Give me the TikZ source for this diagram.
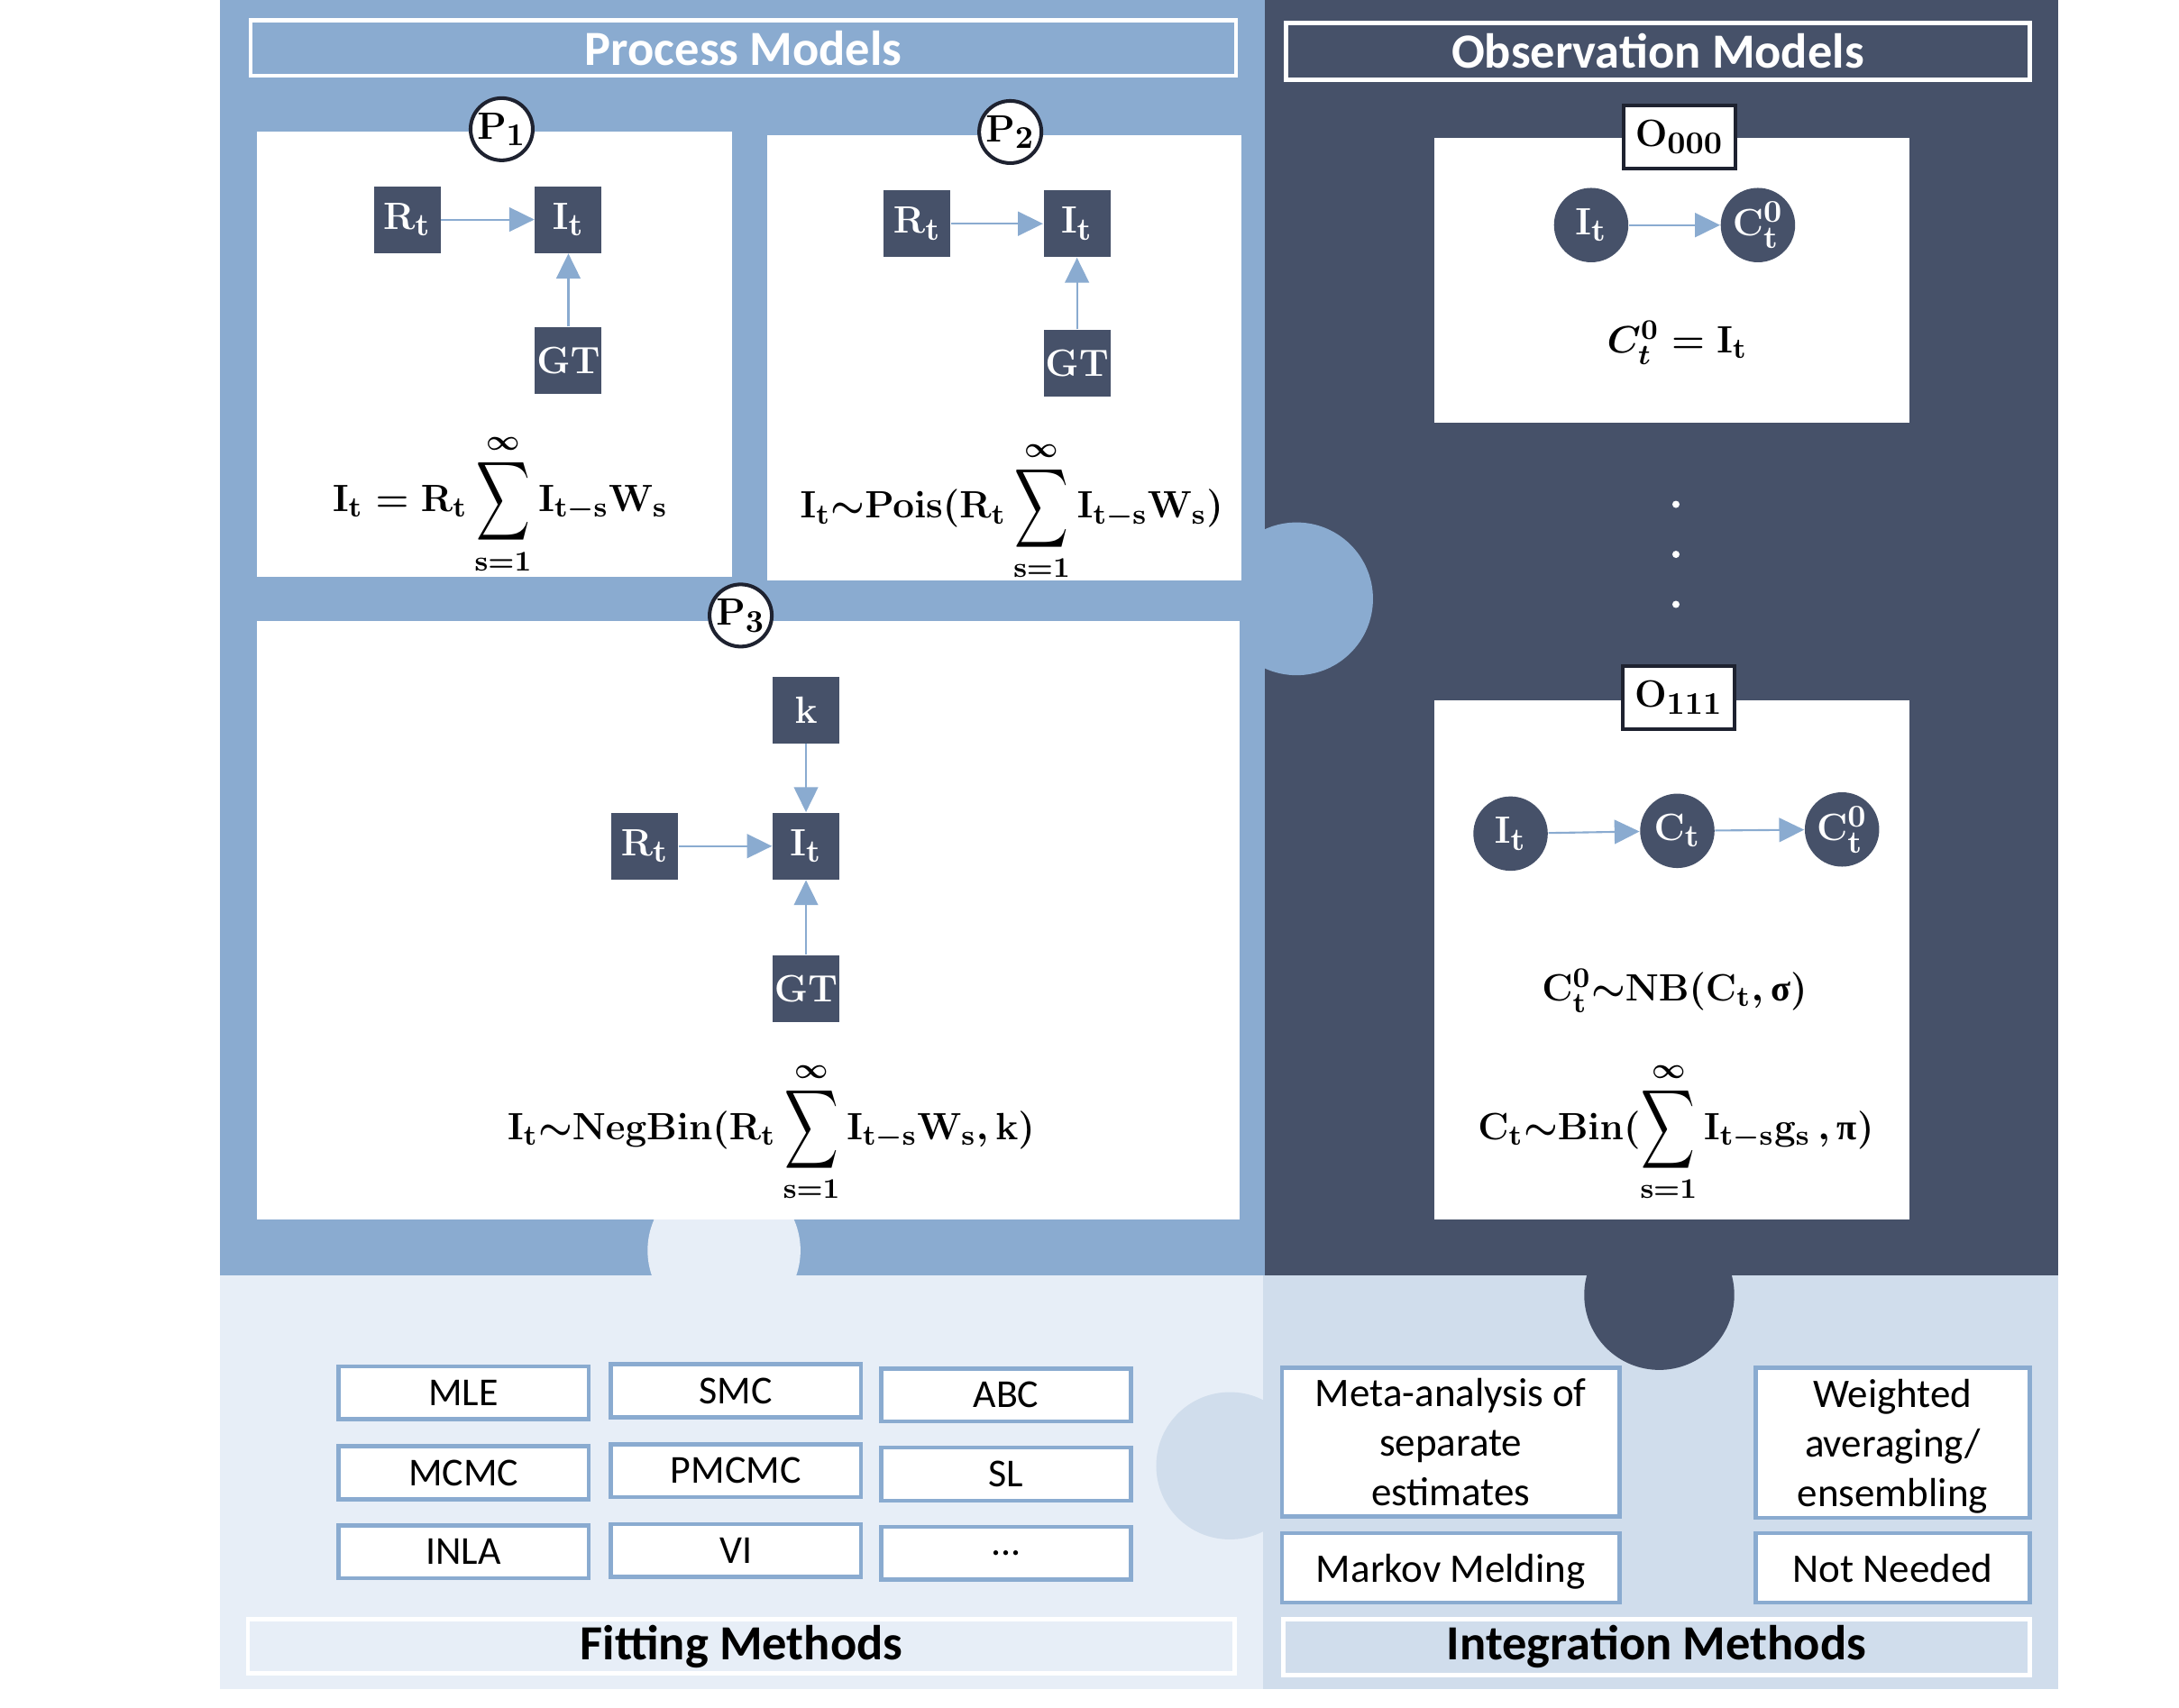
\documentclass[tikz,border=0pt]{standalone}
\usepackage{fontspec}
\usepackage{amsmath}
\usepackage{graphicx}
\usetikzlibrary{arrows.meta}
\newfontfamily\carl{Carlito}
\newfontfamily\grk{Liberation Serif}
\definecolor{lblue}{HTML}{8AABD0}
\definecolor{dnavy}{HTML}{465169}
\definecolor{fitbg}{HTML}{E7EEF7}
\definecolor{intbg}{HTML}{D0DDEC}
\definecolor{labline}{HTML}{1E2230}
\DeclareMathSizes{11.5}{11.5}{8.9}{6.9}
\DeclareMathSizes{13}{13}{10}{7.8}
\newcommand{\nodefont}{\fontsize{13}{15}\selectfont\boldmath}
\newcommand{\eqfont}{\fontsize{11.5}{14}\selectfont\boldmath}
\newcommand{\bsum}{\mathop{\vcenter{\hbox{\scalebox{0.98}[1.45]{$\displaystyle\sum$}}}}\limits}
\newcommand{\gr}[1]{\mbox{\grk\bfseries #1}}
\begin{document}
\begin{tikzpicture}[x=0.15415mm,y=-0.15415mm,
  sq/.style={fill=dnavy, text=white, minimum width=7.4mm, minimum height=7.4mm, inner sep=0pt, font=\nodefont},
  oc/.style={circle, fill=dnavy, text=white, minimum size=8.25mm, inner sep=0pt, font=\nodefont},
  arr/.style={draw=lblue, line width=0.6pt, -{Triangle[length=7.9pt,width=7.6pt]}},
  plab/.style={circle, draw=labline, line width=1.15pt, fill=white, minimum size=6.9mm, inner sep=0pt, font=\nodefont},
  olab/.style={draw=labline, line width=1.15pt, fill=white, minimum width=12.4mm, minimum height=7.0mm, inner sep=0pt, font=\nodefont},
  method/.style={draw=lblue, line width=1.3pt, fill=white, minimum width=27.75mm, minimum height=5.86mm, inner sep=0pt, font=\carl\fontsize{12.5}{15}\selectfont},
  integ/.style={draw=lblue, line width=1.3pt, fill=white, inner sep=0pt, align=center, font=\carl\fontsize{12.8}{15.6}\selectfont},
  titlebox/.style={line width=1.3pt, inner sep=0pt, font=\carl\bfseries\fontsize{15.5}{18}\selectfont},
  eq/.style={inner sep=0pt, anchor=base, font=\eqfont}
]
\useasboundingbox (0,0) rectangle (1568,1229);
\fill[white] (0,0) rectangle (1568,1229);
% panels
\fill[lblue] (158,0) rectangle (910,918);
\fill[dnavy] (910,0) rectangle (1481,918);
\fill[fitbg] (158,918) rectangle (909,1216);
\fill[intbg] (909,918) rectangle (1481,1216);
% puzzle bumps
\fill[lblue] (933,431) circle[radius=55];
\fill[fitbg] (521,900) circle[radius=55];
\fill[dnavy] (1194,932) circle[radius=54];
\fill[intbg] (885,1055) circle[radius=53];
% white cards
\fill[white] (185,95) rectangle (527,415);
\fill[white] (552,97) rectangle (893,418);
\fill[white] (185,447) rectangle (892,878);
\fill[white] (1032,99) rectangle (1374,304);
\fill[white] (1032,504) rectangle (1374,878);
% titles
\node[titlebox, draw=white, fill=lblue, text=white, minimum width=109.3mm, minimum height=6.17mm] (tproc) at (535,34.5) {Process Models};
\node[titlebox, draw=white, fill=dnavy, text=white, minimum width=82.47mm, minimum height=6.32mm] (tobs) at (1193,37) {Observation Models};
\node[titlebox, draw=white, fill=fitbg, text=black, minimum width=109.45mm, minimum height=6.01mm] (tfit) at (533.5,1185) {Fitting Methods};
\node[titlebox, draw=white, fill=intbg, text=black, minimum width=82.78mm, minimum height=6.17mm] (tint) at (1192,1185.5) {Integration Methods};
% P1
\node[sq] (p1R) at (293,158) {$\mathbf{R_t}$};
\node[sq] (p1I) at (409,158) {$\mathbf{I_t}$};
\node[sq] (p1G) at (409,259.5) {$\mathbf{GT}$};
\draw[arr] (p1R) -- (p1I);
\draw[arr] (p1G) -- (p1I);
\node[plab] (p1) at (361,93) {$\mathbf{P_1}$};
\node[eq] (e1) at (360,368) {$\mathbf{I_t = R_t}\bsum_{\mathbf{s=1}}^{\infty}\mathbf{I_{t-s}W_s}$};
% P2
\node[sq] (p2R) at (660,161) {$\mathbf{R_t}$};
\node[sq] (p2I) at (775,161) {$\mathbf{I_t}$};
\node[sq] (p2G) at (775,261.5) {$\mathbf{GT}$};
\draw[arr] (p2R) -- (p2I);
\draw[arr] (p2G) -- (p2I);
\node[plab] (p2) at (727,95) {$\mathbf{P_2}$};
\node[eq] (e2) at (728,373) {$\mathbf{I_t}{\sim}\mathbf{Pois}(\mathbf{R_t}\bsum_{\mathbf{s=1}}^{\infty}\mathbf{I_{t-s}W_s})$};
% P3
\node[sq] (p3K) at (580,511) {$\mathbf{k}$};
\node[sq] (p3R) at (464,609) {$\mathbf{R_t}$};
\node[sq] (p3I) at (580,609) {$\mathbf{I_t}$};
\node[sq] (p3G) at (580,711.5) {$\mathbf{GT}$};
\draw[arr] (p3K) -- (p3I);
\draw[arr] (p3R) -- (p3I);
\draw[arr] (p3G) -- (p3I);
\node[plab] (p3) at (533,443) {$\mathbf{P_3}$};
\node[eq] (e3) at (555,820) {$\mathbf{I_t}{\sim}\mathbf{NegBin}(\mathbf{R_t}\bsum_{\mathbf{s=1}}^{\infty}\mathbf{I_{t-s}W_s},\mathbf{k})$};
% O000
\node[olab] (o0) at (1208.5,98.5) {$\mathbf{O_{000}}$};
\node[oc] (o0I) at (1145,162) {$\mathbf{I_t}$};
\node[oc] (o0C) at (1265,162) {$\mathbf{C_t^0}$};
\draw[arr] (o0I) -- (o0C);
\node[eq] (e4) at (1207,254) {$C_t^{\mathbf{0}} = \mathbf{I_t}$};
% dots
\fill[white] (1206,363) circle[radius=2.6];
\fill[white] (1206,399) circle[radius=2.6];
\fill[white] (1206,435) circle[radius=2.6];
% O111
\node[olab] (o1) at (1208,502) {$\mathbf{O_{111}}$};
\node[oc] (o1I) at (1087,600) {$\mathbf{I_t}$};
\node[oc] (o1C) at (1207,598) {$\mathbf{C_t}$};
\node[oc] (o1D) at (1325.5,597) {$\mathbf{C_t^0}$};
\draw[arr] (o1I) -- (o1C);
\draw[arr] (o1C) -- (o1D);
\node[eq] (e5) at (1205,720.5) {$\mathbf{C_t^0}{\sim}\mathbf{NB}(\mathbf{C_t},\gr{σ})$};
\node[eq] (e6) at (1206,820) {$\mathbf{C_t}{\sim}\mathbf{Bin}(\bsum_{\mathbf{s=1}}^{\infty}\mathbf{I_{t-s}g_s}\,,\gr{π})$};
% fitting methods
\node[method] (mle) at (333.5,1002.5) {MLE};
\node[method] (smc) at (529.5,1001) {SMC};
\node[method] (abc) at (724,1004) {ABC};
\node[method] (mcmc) at (333.5,1060) {MCMC};
\node[method] (pmcmc) at (529.5,1058.5) {PMCMC};
\node[method] (sl) at (724,1061) {SL};
\node[method] (inla) at (333.5,1117) {INLA};
\node[method] (vi) at (529.5,1116) {VI};
\node[method] (more) at (724,1118) {...};
% integration methods
\node[integ, minimum width=37.46mm, minimum height=16.5mm] (meta) at (1044,1038) {Meta-analysis of\\separate\\estimates};
\node[integ, minimum width=30.37mm, minimum height=16.65mm] (wavg) at (1362,1038.5) {Weighted\\averaging/\\\raisebox{0pt}[\height][0pt]{ensembling}};
\node[integ, minimum width=37.46mm, minimum height=7.71mm] (melding) at (1044,1128.5) {\raisebox{0pt}[\height][0pt]{Markov Melding}};
\node[integ, minimum width=30.37mm, minimum height=7.71mm] (notneeded) at (1362,1128.5) {Not Needed};
\end{tikzpicture}
\end{document}
